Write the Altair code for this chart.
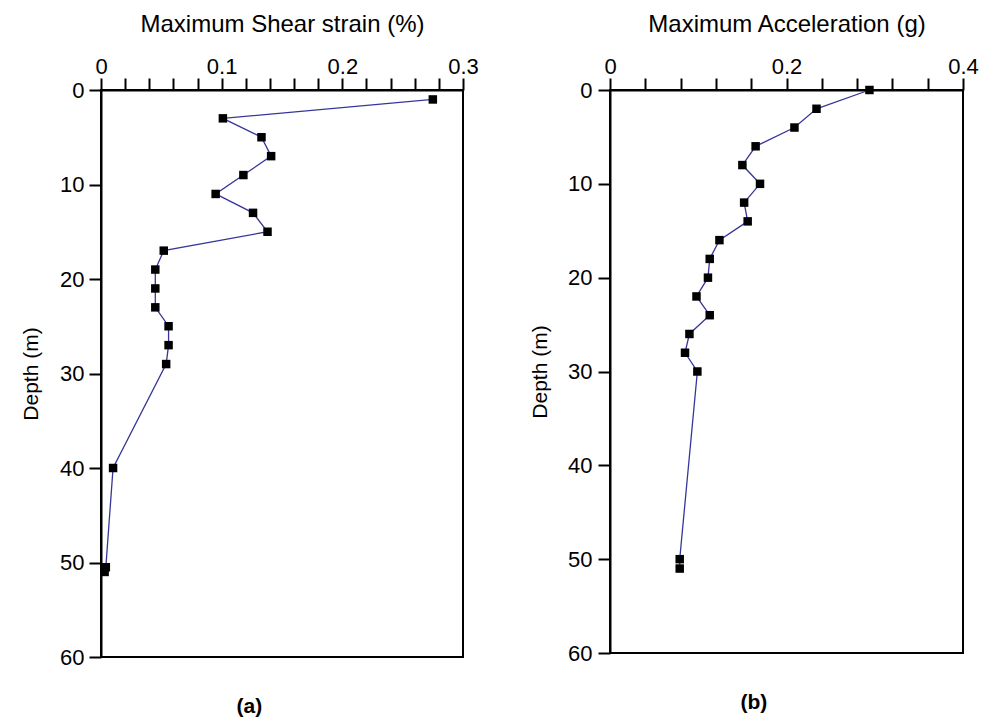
import altair as alt
import pandas as pd

# Panel (a): maximum shear strain vs depth
depth_a = [1, 3, 5, 7, 9, 11, 13, 15, 17, 19, 21, 23, 25, 27, 29, 40, 50.5, 51]
strain_a = [0.275, 0.101, 0.133, 0.141, 0.118, 0.095, 0.126, 0.138, 0.052, 0.045,
            0.045, 0.045, 0.056, 0.056, 0.054, 0.010, 0.004, 0.003]
strain_ticks = [0, 0.02, 0.04, 0.06, 0.08, 0.1, 0.12, 0.14, 0.16, 0.18, 0.2,
                0.22, 0.24, 0.26, 0.28, 0.3]

# Panel (b): maximum acceleration vs depth
depth_b = [0, 2, 4, 6, 8, 10, 12, 14, 16, 18, 20, 22, 24, 26, 28, 30, 50, 51]
acc_b = [0.294, 0.234, 0.209, 0.165, 0.150, 0.170, 0.152, 0.156, 0.124, 0.113,
         0.111, 0.098, 0.113, 0.090, 0.085, 0.099, 0.079, 0.079]
acc_ticks = [0, 0.04, 0.08, 0.12, 0.16, 0.2, 0.24, 0.28, 0.32, 0.36, 0.4]

depth_ticks = [0, 10, 20, 30, 40, 50, 60]

FONT = "Liberation Sans"
LINE_COLOR = "#36369a"


def panel(df, xfield, xtitle, xdomain, xticks, mult, w, h, tag, lpad, tpad):
    x = alt.X(
        f"{xfield}:Q",
        scale=alt.Scale(domain=xdomain, nice=False, zero=False),
        axis=alt.Axis(
            orient="top",
            values=xticks,
            labelExpr=f"abs(datum.value*{mult} - round(datum.value*{mult})) < 0.001 ? format(datum.value, '~g') : ''",
            labelFlush=False,
            labelOverlap=False,
            ticks=True, tickSize=12, tickWidth=2, tickColor="black",
            title=xtitle,
            titlePadding=19,
            labelPadding=0,
        ),
    )
    y = alt.Y(
        "depth:Q",
        scale=alt.Scale(domain=[0, 60], reverse=True, nice=False, zero=False),
        axis=alt.Axis(values=depth_ticks, title="Depth (m)", labelPadding=lpad,
                      ticks=True, tickSize=12, tickWidth=2, tickColor="black",
                      titlePadding=tpad, titleFontSize=21),
    )
    base = alt.Chart(df)
    line = base.mark_line(color=LINE_COLOR, strokeWidth=1.3).encode(
        x=x, y=y, order=alt.Order("depth:Q"))
    pts = base.mark_square(size=72, color="black", opacity=1).encode(x=x, y=y)
    return alt.layer(line, pts).properties(
        width=w, height=h,
        title=alt.TitleParams(tag, orient="bottom", fontSize=21, fontWeight="bold",
                              font=FONT, color="black", frame="bounds",
                              anchor="middle", offset=28),
    )


df_a = pd.DataFrame({"depth": depth_a, "strain": strain_a})
df_b = pd.DataFrame({"depth": depth_b, "acc": acc_b})

left = panel(df_a, "strain", "Maximum Shear strain (%)", [0, 0.3], strain_ticks, 10,
             362, 567, "(a)", 5, 18)
right = panel(df_b, "acc", "Maximum Acceleration (g)", [0, 0.4], acc_ticks, 5,
              353, 563, "(b)", 6, 17)

chart = alt.hconcat(left, right, spacing=48).properties(
    padding={"left": 19, "top": 11, "right": 0, "bottom": 0}
).configure(font=FONT).configure_view(
    stroke="black", strokeWidth=2
).configure_axis(
    domainColor="black", domainWidth=2,
    labelFont=FONT, labelFontSize=22, labelColor="black",
    titleFont=FONT, titleFontSize=24, titleFontWeight="normal", titleColor="black",
    grid=False,
)

chart.save("out.html", embed_options={"renderer": "svg", "actions": False})
